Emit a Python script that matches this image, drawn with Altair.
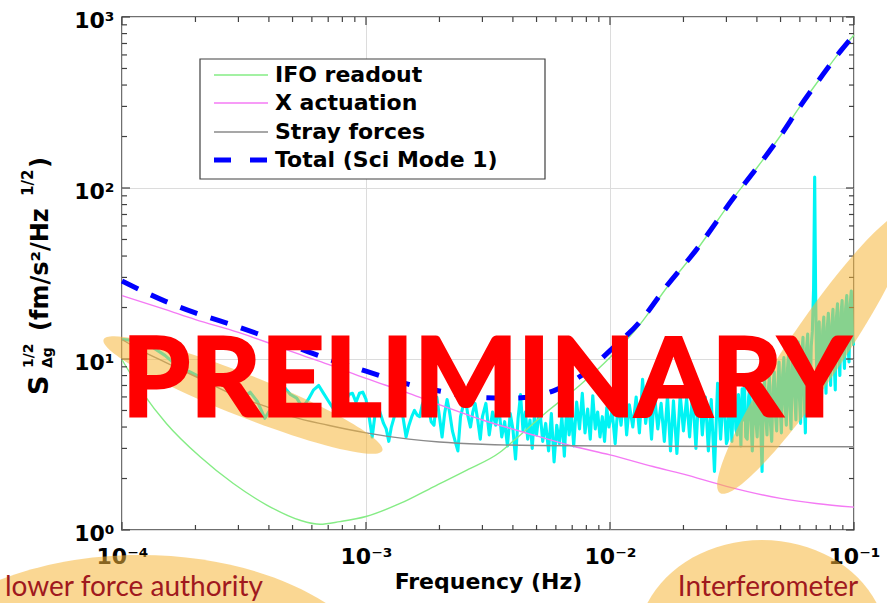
import altair as alt
import pandas as pd

# ---------------- data ----------------
ifo_f = [1.0e-4, 1.22e-4, 1.52e-4, 2.09e-4, 2.86e-4, 3.92e-4, 5.37e-4, 6.48e-4, 7.82e-4,
         1.0e-3, 1.38e-3, 1.89e-3, 2.59e-3, 3.54e-3, 4.0e-3, 5.5e-3, 7.5e-3, 1.0e-2,
         1.33e-2, 1.71e-2, 2.26e-2, 3.2e-2, 3.98e-2, 4.97e-2, 6.0e-2, 7.26e-2, 8.77e-2, 1.0e-1]
ifo_v = [9.9, 6.3, 4.2, 2.68, 1.87, 1.40, 1.14, 1.08, 1.12,
         1.20, 1.43, 1.79, 2.24, 2.85, 3.3, 4.9, 7.0, 10.2,
         16.0, 26.2, 43.2, 87, 130, 200, 299, 437, 627, 785]

xact_f = [1e-4, 1.5e-4, 2e-4, 3e-4, 4e-4, 5e-4, 7e-4, 1e-3, 1.5e-3, 2e-3, 3e-3, 5e-3,
          7e-3, 1e-2, 1.5e-2, 2e-2, 3e-2, 5e-2, 7e-2, 1e-1]
xact_v = [23.5, 19.5, 17.0, 14.3, 12.4, 11.0, 9.3, 7.7, 6.3, 5.4, 4.4, 3.55,
          3.1, 2.75, 2.35, 2.12, 1.8, 1.53, 1.43, 1.36]

stray_f = [1e-4, 1.2e-4, 1.5e-4, 2e-4, 3e-4, 4e-4, 5e-4, 7e-4, 1e-3, 1.5e-3, 2e-3, 3e-3,
           5e-3, 1e-2, 3e-2, 1e-1]
stray_v = [13.0, 11.2, 9.6, 7.9, 6.0, 5.2, 4.6, 4.1, 3.7, 3.4, 3.27, 3.17,
           3.12, 3.10, 3.08, 3.07]

total_f = [1e-4, 1.5e-4, 2e-4, 3e-4, 4e-4, 5e-4, 7e-4, 1e-3, 1.5e-3, 2e-3, 3e-3, 4e-3,
           5e-3, 6e-3, 7e-3, 8e-3, 1e-2, 1.33e-2, 1.71e-2, 2.26e-2, 3.2e-2, 3.98e-2,
           4.97e-2, 6e-2, 7.26e-2, 8.77e-2, 1e-1]
total_v = [28.6, 21.8, 18.6, 15.4, 13.3, 11.9, 10.0, 8.5, 7.1, 6.5, 5.95, 5.9,
           6.1, 6.6, 7.4, 8.4, 11.2, 16.6, 26.8, 43.6, 87, 130,
           200, 299, 437, 627, 785]

# measured spectrum (cyan), frequencies in mHz
meas_a_f = [0.100, 0.115, 0.130, 0.150, 0.170, 0.190, 0.210, 0.235, 0.260, 0.285, 0.310, 0.335,
            0.360, 0.385, 0.410, 0.435, 0.460, 0.490, 0.520, 0.550, 0.580, 0.610, 0.640, 0.670,
            0.700, 0.730, 0.760, 0.790, 0.820, 0.850, 0.880, 0.910, 0.940, 0.970]
meas_a_v = [13.0, 12.8, 12.0, 10.5, 9.0, 8.4, 7.8, 7.5, 7.0, 6.6, 5.9, 6.4,
            5.6, 4.5, 5.2, 6.4, 6.9, 6.2, 5.9, 5.2, 5.8, 6.6, 7.0, 6.3,
            5.7, 5.2, 5.9, 6.0, 5.4, 6.2, 6.3, 5.6, 6.3, 6.4]
meas_b_f = [1.00, 1.03, 1.06, 1.09, 1.12, 1.15, 1.18, 1.21, 1.24, 1.27, 1.30, 1.34, 1.38, 1.42,
            1.46, 1.50, 1.54, 1.58, 1.62, 1.66, 1.70, 1.75, 1.80, 1.85, 1.90, 1.95, 2.00, 2.05,
            2.10, 2.15, 2.20, 2.26, 2.32, 2.38, 2.44, 2.50, 2.56, 2.62, 2.68, 2.74, 2.80, 2.87, 2.94]
meas_b_v = [5.8, 4.6, 3.5, 4.8, 5.3, 4.7, 4.2, 3.9, 3.3, 4.0, 4.5, 5.3, 5.8, 4.5,
            3.5, 4.1, 4.6, 5.0, 4.7, 4.6, 5.4, 6.0, 5.3, 4.3, 4.1, 6.0, 4.6, 3.5,
            4.8, 5.8, 4.9, 3.8, 3.3, 2.9, 4.6, 5.3, 5.8, 4.6, 4.0, 4.9, 5.5, 4.4, 3.4]
meas_c_f = [3.0, 3.1, 3.2, 3.3, 3.4, 3.5, 3.6, 3.7, 3.8, 3.9, 4.0, 4.1, 4.2, 4.3, 4.4, 4.5, 4.6,
            4.7, 4.8, 4.9, 5.0, 5.15, 5.3, 5.45, 5.6, 5.75, 5.9, 6.05, 6.2, 6.35, 6.5, 6.65, 6.8,
            6.95, 7.1, 7.3, 7.5, 7.7, 7.9, 8.1, 8.3, 8.5, 8.7, 8.9, 9.1, 9.3, 9.5, 9.7, 9.9]
meas_c_v = [4.6, 5.5, 3.6, 4.9, 4.1, 5.3, 3.5, 4.3, 3.1, 4.8, 3.9, 2.6, 4.5, 6.2, 3.8, 4.9, 3.4,
            4.4, 3.0, 4.7, 3.6, 5.2, 3.3, 4.2, 2.9, 4.8, 2.5, 4.1, 3.2, 4.6, 2.7, 5.4, 3.6,
            4.8, 3.1, 5.6, 3.9, 6.3, 3.7, 5.1, 3.4, 6.1, 3.9, 4.9, 3.5, 4.6, 3.3, 5.2, 4.0]
meas_d_f = [10.2, 10.5, 10.8, 11.1, 11.4, 11.7, 12.0, 12.4, 12.8, 13.2, 13.6, 14.0, 14.4, 14.8,
            15.2, 15.7, 16.2, 16.7, 17.2, 17.7, 18.2, 18.8, 19.4, 20.0, 20.6, 21.2, 21.8, 22.5,
            23.2, 23.9, 24.6, 25.3, 26.0, 26.8, 27.6, 28.4, 29.2, 30.0]
meas_d_v = [5.0, 3.2, 5.6, 4.1, 6.2, 3.6, 5.4, 4.0, 6.0, 3.7, 7.6, 4.2, 5.8, 3.4,
            6.3, 3.9, 5.5, 3.3, 6.1, 2.9, 5.7, 2.8, 6.2, 3.8, 5.9, 3.5, 6.4, 3.0,
            7.0, 3.6, 6.0, 2.9, 5.8, 2.2, 7.2, 3.4, 6.5, 3.2]
meas_e_f = [30.4, 30.8, 31.2, 31.6, 32.0, 32.4, 32.8, 33.2, 33.6, 34.0, 34.4, 34.8, 35.2, 35.6, 36.0,
            36.5, 37.0, 37.4, 37.9, 38.3, 38.8, 39.2, 39.7, 40.1, 40.6, 41.0,
            41.5, 42.0, 42.5, 43.0, 43.5, 44.0, 44.5, 45.0, 45.5, 46.0,
            46.6, 47.1, 47.7, 48.2, 48.8, 49.3, 49.9, 50.4,
            51.0, 51.6, 52.2, 52.8, 53.4, 54.0, 54.6, 55.2,
            55.9, 56.5, 57.2, 57.8, 58.5, 59.1, 59.8, 60.4,
            61.1, 61.8, 62.5, 63.2, 63.9, 64.6, 65.3, 66.0,
            66.8, 67.5, 68.3, 69.0, 69.6, 70.5,
            71.2, 72.0, 72.8, 73.6, 74.4, 75.2, 76.0, 76.8,
            77.7, 78.5, 79.4, 80.2, 81.1, 82.0, 82.9, 83.8,
            84.7, 85.6, 86.5, 87.5, 88.5, 89.4, 90.4, 91.4,
            92.4, 93.4, 94.4, 95.4, 96.5, 97.5, 98.5, 99.6]
meas_e_v = [3.4, 6.6, 4.8, 3.3, 5.9, 6.9, 3.9, 3.6, 6.2, 5.1, 3.1, 6.7, 4.4, 7.1, 3.5,
            3.4, 6.0, 6.8, 4.0, 2.9, 5.5, 7.3, 4.2, 3.5, 6.2, 6.5,
            3.9, 2.2, 5.8, 7.6, 4.6, 3.6, 6.4, 7.9, 4.1, 3.3,
            6.9, 8.4, 4.6, 3.8, 7.2, 9.6, 5.0, 3.7,
            8.1, 10.2, 5.4, 4.1, 8.8, 11.0, 5.2, 3.9,
            9.4, 11.8, 6.0, 4.4, 10.1, 12.6, 5.8, 4.2,
            10.8, 13.4, 6.1, 3.7, 11.5, 14.0, 6.8, 5.0,
            11.9, 14.5, 26.0, 116.0, 25.0, 6.0,
            13.8, 16.5, 8.0, 5.9, 14.6, 17.6, 8.6, 6.3,
            15.2, 18.5, 9.2, 7.0, 16.0, 19.5, 9.5, 6.6,
            17.4, 21.0, 10.8, 8.0, 18.6, 22.0, 11.5, 8.8,
            19.8, 23.5, 12.4, 9.6, 21.0, 25.0, 13.5, 12.0]

series_names = ["IFO readout", "X actuation", "Stray forces", "Total (Sci Mode 1)"]
series_colors = ["#85ec85", "#f47af4", "#8a8a8a", "#0000ff"]
meas_color = "#00f4f4"

x_decades = [1e-4, 1e-3, 1e-2, 1e-1]
y_decades = [1, 10, 100, 1000]
minor_mults = [2, 3, 4, 5, 6, 7, 8, 9]

# ---------------- layout ----------------
W, H = 732, 513
PAD = {"left": 122, "top": 17, "right": 33, "bottom": 73}
FONT = "DejaVu Sans"
BOX = "#404040"

x_minor = [m * d for d in x_decades[:-1] for m in minor_mults]
y_minor = [m * d for d in y_decades[:-1] for m in minor_mults]

xscale = alt.Scale(type="log", domain=[x_decades[0], x_decades[-1]], nice=False)
yscale = alt.Scale(type="log", domain=[y_decades[0], y_decades[-1]], nice=False)

x_main = alt.Axis(orient="bottom", values=x_decades,
                  labelExpr="'10' + (datum.value < 0.0005 ? '⁻⁴' : datum.value < 0.005 ? '⁻³' : datum.value < 0.05 ? '⁻²' : '⁻¹')",
                  ticks=False, domain=False, grid=True, gridColor="#dcdcdc", gridWidth=1,
                  labelFont=FONT, labelFontWeight="bold", labelFontSize=22, labelColor="black",
                  labelPadding=16, labelFlush=False, labelOverlap=False,
                  title="Frequency (Hz)", titleFont=FONT, titleFontWeight="bold",
                  titleFontSize=22, titleColor="black", titlePadding=4)
y_main = alt.Axis(orient="left", values=y_decades,
                  labelExpr="'10' + (datum.value < 5 ? '⁰' : datum.value < 50 ? '¹' : datum.value < 500 ? '²' : '³')",
                  ticks=False, domain=False, grid=True, gridColor="#dcdcdc", gridWidth=1,
                  labelFont=FONT, labelFontWeight="bold", labelFontSize=22, labelColor="black",
                  labelPadding=8, labelFlush=False, labelOffset=3, labelOverlap=False, title=None)

# ---------------- data frames ----------------
meas_f = [v * 1e-3 for v in meas_a_f + meas_b_f + meas_c_f + meas_d_f + meas_e_f]
meas_v = meas_a_v + meas_b_v + meas_c_v + meas_d_v + meas_e_v
meas_df = pd.DataFrame({"f": meas_f, "v": meas_v})

thin_rows = []
for name, fs, vs in [(series_names[0], ifo_f, ifo_v), (series_names[1], xact_f, xact_v),
                     (series_names[2], stray_f, stray_v)]:
    for f, v in zip(fs, vs):
        thin_rows.append({"f": f, "v": v, "series": name})
thin_df = pd.DataFrame(thin_rows)
total_df = pd.DataFrame({"f": total_f, "v": total_v})

one = pd.DataFrame({"k": [0]})

# ---------------- layers ----------------
meas = alt.Chart(meas_df).mark_line(color=meas_color, strokeWidth=3.1, strokeJoin="round").encode(
    x=alt.X("f:Q", scale=xscale, axis=x_main),
    y=alt.Y("v:Q", scale=yscale, axis=y_main),
)

thin = alt.Chart(thin_df).mark_line(strokeWidth=1.4, interpolate="monotone").encode(
    x=alt.X("f:Q", scale=xscale, axis=None),
    y=alt.Y("v:Q", scale=yscale, axis=None),
    color=alt.Color("series:N", scale=alt.Scale(domain=series_names[:3], range=series_colors[:3]),
                    legend=None),
    detail="series:N",
)

total = alt.Chart(total_df).mark_line(color=series_colors[3], strokeWidth=5, strokeDash=[18, 14],
                                      interpolate="monotone").encode(
    x=alt.X("f:Q", scale=xscale, axis=None),
    y=alt.Y("v:Q", scale=yscale, axis=None),
)


# inward ticks on all four sides (matlab style box)
def xticks(values, length, at_bottom):
    y0 = H if at_bottom else 0
    y1 = H - length if at_bottom else length
    return alt.Chart(pd.DataFrame({"t": values})).mark_rule(color=BOX, strokeWidth=1.2).encode(
        x=alt.X("t:Q", scale=xscale, axis=None), y=alt.value(y0), y2=alt.value(y1))


def yticks(values, length, at_left):
    x0 = 0 if at_left else W
    x1 = length if at_left else W - length
    return alt.Chart(pd.DataFrame({"t": values})).mark_rule(color=BOX, strokeWidth=1.2).encode(
        y=alt.Y("t:Q", scale=yscale, axis=None), x=alt.value(x0), x2=alt.value(x1))


tick_layers = [
    xticks(x_decades, 8, True), xticks(x_minor, 5, True),
    xticks(x_decades, 8, False), xticks(x_minor, 5, False),
    yticks(y_decades, 8, True), yticks(y_minor, 5, True),
    yticks(y_decades, 8, False), yticks(y_minor, 5, False),
]


def ellipse_path(k):
    c = 0.5523
    return (f"M1,0 C1,{c*k:.4f} {c:.4f},{k:.4f} 0,{k:.4f} "
            f"C{-c:.4f},{k:.4f} -1,{c*k:.4f} -1,0 "
            f"C-1,{-c*k:.4f} {-c:.4f},{-k:.4f} 0,{-k:.4f} "
            f"C{c:.4f},{-k:.4f} 1,{-c*k:.4f} 1,0 Z")


def ellipse(cx, cy, rx, ry, angle):
    return alt.Chart(one).mark_point(
        shape=ellipse_path(ry / rx), filled=True, color="#f6b73a", opacity=0.55,
        size=(2 * rx) ** 2, angle=angle, strokeWidth=0,
    ).encode(x=alt.value(cx - PAD["left"]), y=alt.value(cy - PAD["top"]))


ell_left = ellipse(243, 395, 150, 21, 21.7)
ell_right = ellipse(815, 352, 170, 28, 304)
ell_bl = ellipse(140, 700, 250, 145, 0)
ell_br = ellipse(762, 645, 125, 105, 0)


def txt(s, x, y, size, **kw):
    return alt.Chart(one).mark_text(text=s, fontSize=size, **kw).encode(
        x=alt.value(x - PAD["left"]), y=alt.value(y - PAD["top"]))


# y-axis title pieces (rotated)
rot = dict(angle=270, align="left", baseline="alphabetic", font=FONT, fontWeight="bold", color="black")
ytitle = [
    txt("S", 48, 395, 27, **rot),
    txt("1/2", 33, 368, 14, **rot),
    txt("Δg", 52, 368, 14, **rot),
    txt("(fm/s²/Hz", 48, 331, 24, **rot),
    txt("1/2", 33, 196, 15, **rot),
    txt(")", 48, 168, 24, **rot),
]

# legend (drawn by hand)
legend_rows_y = [75, 103, 132, 160]
legend_layers = [
    alt.Chart(one).mark_rect(fill="white", stroke=BOX, strokeWidth=1.2).encode(
        x=alt.value(200 - PAD["left"]), x2=alt.value(545 - PAD["left"]),
        y=alt.value(59 - PAD["top"]), y2=alt.value(179 - PAD["top"]))
]
for i, (name, col) in enumerate(zip(series_names, series_colors)):
    yy = legend_rows_y[i] - PAD["top"]
    if i < 3:
        rule = alt.Chart(one).mark_rule(color=col, strokeWidth=1.4)
    else:
        rule = alt.Chart(one).mark_rule(color=col, strokeWidth=5, strokeDash=[17, 19])
    legend_layers.append(rule.encode(x=alt.value(214 - PAD["left"]), x2=alt.value(268 - PAD["left"]),
                                     y=alt.value(yy)))
    legend_layers.append(txt(name, 275, legend_rows_y[i], 22, font=FONT, fontWeight="bold",
                             color="black", align="left", baseline="middle"))

notes = [
    txt("lower force authority", 5, 596, 28, font="Lato", color="#a0191e", align="left",
        baseline="alphabetic"),
    txt("Interferometer", 768, 596, 28, font="Lato", color="#a0191e", align="center",
        baseline="alphabetic"),
]

prelim = txt("PRELIMINARY", 486, 416, 110, font="Lato", fontWeight="bold", color="#ff0000",
             stroke="#ff0000", strokeWidth=3, align="center", baseline="alphabetic")

chart = alt.layer(
    meas, thin, total, *tick_layers, ell_left, ell_right, *ytitle, ell_bl, ell_br, *notes,
    *legend_layers, prelim
).resolve_axis(x="independent", y="independent").properties(
    width=W, height=H, autosize=alt.AutoSizeParams(type="none"), padding=PAD,
    background="white",
).configure_view(stroke=BOX, strokeWidth=1.5)

chart.save("out.html", embed_options={"renderer": "svg", "actions": False})
